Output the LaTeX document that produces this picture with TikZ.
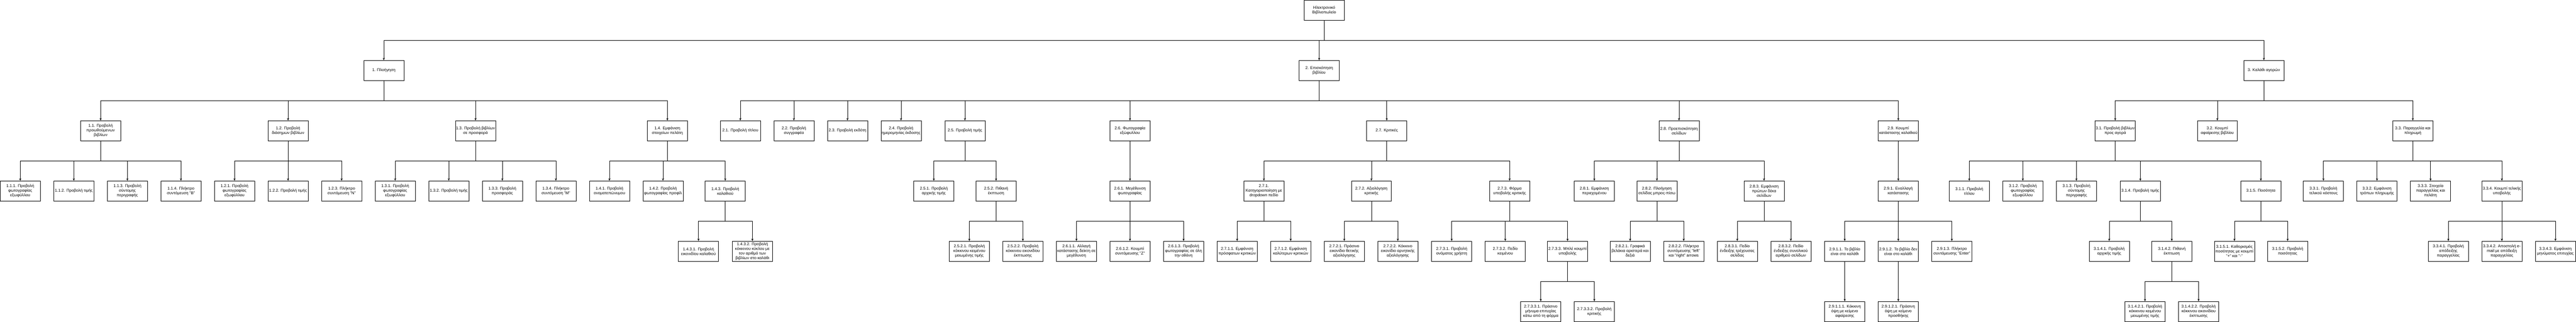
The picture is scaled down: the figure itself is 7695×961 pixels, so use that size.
\documentclass[tikz,border=0pt]{standalone}
\usepackage{fontspec}
\setmainfont{Liberation Sans}
\usetikzlibrary{arrows.meta}
\begin{document}
\begin{tikzpicture}[x=1pt,y=-1pt,
  box/.style={draw=black,line width=1pt,rectangle,anchor=north west,
    minimum width=120pt,minimum height=60pt,inner sep=1pt,align=center,
    font=\fontsize{12}{13.8}\selectfont},
  conn/.style={draw=black,line width=1pt,-{Stealth[length=7pt,width=6pt,inset=2pt]}}]
\fill[white] (0,0) rectangle (7695,961);
\useasboundingbox (0,0) rectangle (7695,961);
% root and level 1
\node[box] (R) at (3895,0) {Ηλεκτρονικό\\Βιβλιοπωλείο};
\node[box] (n1) at (1086,180) {1. Πλοήγηση};
\node[box] (n2) at (3880,180) {2. Επισκόπηση\\βιβλίου};
\node[box] (n3) at (6702,180) {3. Καλάθι αγορών};
% level 2
\node[box] (a11) at (240,360) {1.1. Προβολή\\προωθούμενων\\βιβλίων};
\node[box] (a12) at (800,360) {1.2. Προβολή\\διάσημων βιβλίων};
\node[box] (a13) at (1360,360) {1.3. Προβολή βιβλίων\\σε προσφορά};
\node[box] (a14) at (1933,360) {1.4. Εμφάνιση\\στοιχείων πελάτη};
\node[box] (b21) at (2151,360) {2.1. Προβολή τίτλου};
\node[box] (b22) at (2311,360) {2.2. Προβολή\\συγγραφέα};
\node[box] (b23) at (2471,360) {2.3. Προβολή εκδότη};
\node[box] (b24) at (2631,360) {2.4. Προβολή\\ημερομηνίας έκδοσης};
\node[box] (b25) at (2822,360) {2.5. Προβολή τιμής};
\node[box] (b26) at (3315,360) {2.6. Φωτογραφία\\εξώφυλλου};
\node[box] (b27) at (4082,360) {2.7. Κριτικές};
\node[box] (b28) at (4955,360) {2.8. Προεπισκόπηση\\σελίδων};
\node[box] (b29) at (5610,360) {2.9. Κουμπί\\κατάστασης καλαθιού};
\node[box] (c31) at (6258,360) {3.1. Προβολή βιβλίων\\προς αγορά};
\node[box] (c32) at (6563,360) {3.2. Κουμπί\\αφαίρεσης βιβλίου};
\node[box] (c33) at (7147,360) {3.3. Παραγγελία και\\πληρωμή};
% level 3
\node[box] (a111) at (0,540) {1.1.1. Προβολή\\φωτογραφίας\\εξωφύλλου};
\node[box] (a112) at (160,540) {1.1.2. Προβολή τιμής};
\node[box] (a113) at (320,540) {1.1.3. Προβολή\\σύντομης\\περιγραφής};
\node[box] (a114) at (480,540) {1.1.4. Πλήκτρο\\συντόμευση "B"};
\node[box] (a121) at (640,540) {1.2.1. Προβολή\\φωτογραφίας\\εξωφύλλου};
\node[box] (a122) at (800,540) {1.2.2. Προβολή τιμής};
\node[box] (a123) at (960,540) {1.2.3. Πλήκτρο\\συντόμευση "N"};
\node[box] (a131) at (1120,540) {1.3.1. Προβολή\\φωτογραφίας\\εξωφύλλου};
\node[box] (a132) at (1280,540) {1.3.2. Προβολή τιμής};
\node[box] (a133) at (1440,540) {1.3.3. Προβολή\\προσφοράς};
\node[box] (a134) at (1600,540) {1.3.4. Πλήκτρο\\συντόμευση "M"};
\node[box] (a141) at (1760,540) {1.4.1. Προβολή\\ονοματεπώνυμου};
\node[box] (a142) at (1920,540) {1.4.2. Προβολή\\φωτογραφίας προφίλ};
\node[box] (a143) at (2106,540) {1.4.3. Προβολή\\καλαθιού};
\node[box] (b251) at (2729,540) {2.5.1. Προβολή\\αρχικής τιμής};
\node[box] (b252) at (2915,540) {2.5.2. Πιθανή\\έκπτωση};
\node[box] (b261) at (3315,540) {2.6.1. Μεγέθυνση\\φωτογραφίας};
\node[box] (b271) at (3715,540) {2.7.1.\\Κατηγοριοποίηση με\\dropdown πεδίο};
\node[box] (b272) at (4036,540) {2.7.2. Αξιολόγηση\\κριτικής};
\node[box] (b273) at (4449,540) {2.7.3. Φόρμα\\υποβολής κριτικής};
\node[box] (b281) at (4702,540) {2.8.1. Εμφάνιση\\περιεχομένου};
\node[box] (b282) at (4889,540) {2.8.2. Πλοήγηση\\σελίδας μπρος-πίσω};
\node[box] (b283) at (5209,540) {2.8.3. Εμφάνιση\\πρώτων δέκα\\σελίδων};
\node[box] (b291) at (5610,540) {2.9.1. Εναλλαγή\\κατάστασης};
\node[box] (c311) at (5822,540) {3.1.1. Προβολή\\τίτλου};
\node[box] (c312) at (5982,540) {3.1.2. Προβολή\\φωτογραφίας\\εξωφύλλου};
\node[box] (c313) at (6142,540) {3.1.3. Προβολή\\σύντομης\\περιγραφής};
\node[box] (c314) at (6333,540) {3.1.4. Προβολή τιμής};
\node[box] (c315) at (6693,540) {3.1.5. Ποσότητα};
\node[box] (c331) at (6880,540) {3.3.1. Προβολή\\τελικού κόστους};
\node[box] (c332) at (7040,540) {3.3.2. Εμφάνιση\\τρόπων πληρωμής};
\node[box] (c333) at (7200,540) {3.3.3. Στοιχεία\\παραγγελίας και\\πελάτη};
\node[box] (c334) at (7413,540) {3.3.4. Κουμπί τελικής\\υποβολής};
% level 4
\node[box] (a1431) at (2026,720) {1.4.3.1. Προβολή\\εικονιδίου καλαθιού};
\node[box] (a1432) at (2187,720) {1.4.3.2. Προβολή\\κόκκινου κύκλου με\\τον αριθμό των\\βιβλίων στο καλάθι};
\node[box] (b2521) at (2835,720) {2.5.2.1. Προβολή\\κόκκινου κειμένου\\μειωμένης τιμής};
\node[box] (b2522) at (2995,720) {2.5.2.2. Προβολή\\κόκκινου εικονιδίου\\έκπτωσης};
\node[box] (b2611) at (3155,720) {2.6.1.1. Αλλαγή\\κατάστασης δείκτη σε\\μεγέθυνση};
\node[box] (b2612) at (3315,720) {2.6.1.2. Κουμπί\\συντόμευσης "Z"};
\node[box] (b2613) at (3475,720) {2.6.1.3. Προβολή\\φωτογραφίας σε όλη\\την οθόνη};
\node[box] (b2711) at (3635,720) {2.7.1.1. Εμφάνιση\\πρόσφατων κριτικών};
\node[box] (b2712) at (3795,720) {2.7.1.2. Εμφάνιση\\καλύτερων κριτικών};
\node[box] (b2721) at (3955,720) {2.7.2.1. Πράσινο\\εικονίδιο θετικής\\αξιολόγησης};
\node[box] (b2722) at (4115,720) {2.7.2.2. Κόκκινο\\εικονίδιο αρνητικής\\αξιολόγησης};
\node[box] (b2731) at (4276,720) {2.7.3.1. Προβολή\\ονόματος χρήστη};
\node[box] (b2732) at (4436,720) {2.7.3.2. Πεδίο\\κειμένου};
\node[box] (b2733) at (4622,720) {2.7.3.3. Μπλέ κουμπί\\υποβολής};
\node[box] (b2821) at (4809,720) {2.8.2.1. Γραφικά\\βελάκια αριστερά και\\δεξιά};
\node[box] (b2822) at (4969,720) {2.8.2.2. Πλήκτρα\\συντόμευσης "left"\\και "right" arrows};
\node[box] (b2831) at (5129,720) {2.8.3.1. Πεδίο\\ένδειξης τρέχουσας\\σελίδας};
\node[box] (b2832) at (5289,720) {2.8.3.2. Πεδίο\\ένδειξης συνολικού\\αριθμού σελίδων};
\node[box] (b2911) at (5450,720) {2.9.1.1. Το βιβλίο\\είναι στο καλάθι};
\node[box] (b2912) at (5610,720) {2.9.1.2. Το βιβλίο δεν\\είναι στο καλάθι};
\node[box] (b2913) at (5770,720) {2.9.1.3. Πλήκτρο\\συντόμευσης "Enter"};
\node[box] (c3141) at (6240,720) {3.1.4.1. Προβολή\\αρχικής τιμής};
\node[box] (c3142) at (6427,720) {3.1.4.2. Πιθανή\\έκπτωση};
\node[box] (c3151) at (6614,720) {3.1.5.1. Καθορισμός\\ποσότητας με κουμπί\\"+" και "-"};
\node[box] (c3152) at (6773,720) {3.1.5.2. Προβολή\\ποσότητας};
\node[box] (c3341) at (7253,720) {3.3.4.1. Προβολή\\απόδειξης\\παραγγελίας};
\node[box] (c3342) at (7413,720) {3.3.4.2. Αποστολή e-\\mail με απόδειξη\\παραγγελίας};
\node[box] (c3343) at (7573,720) {3.3.4.3. Εμφάνιση\\μηνύματος επιτυχίας};
% level 5
\node[box] (b27331) at (4542,900) {2.7.3.3.1. Πράσινο\\μήνυμα επιτυχίας\\κάτω από τη φόρμα};
\node[box] (b27332) at (4702,900) {2.7.3.3.2. Προβολή\\κριτικής};
\node[box] (b29111) at (5450,900) {2.9.1.1.1. Κόκκινη\\όψη με κείμενο\\αφαίρεσης};
\node[box] (b29121) at (5610,900) {2.9.1.2.1. Πράσινη\\όψη με κείμενο\\προσθήκης};
\node[box] (c31421) at (6347,900) {3.1.4.2.1. Προβολή\\κόκκινου κειμένου\\μειωμένης τιμής};
\node[box] (c31422) at (6507,900) {3.1.4.2.2. Προβολή\\κόκκινου εικονιδίου\\έκπτωσης};
% connectors
\foreach \p/\c in {R/n1,R/n2,R/n3,
  n1/a11,n1/a12,n1/a13,n1/a14,
  n2/b21,n2/b22,n2/b23,n2/b24,n2/b25,n2/b26,n2/b27,n2/b28,n2/b29,
  n3/c31,n3/c32,n3/c33,
  a11/a111,a11/a112,a11/a113,a11/a114,
  a12/a121,a12/a122,a12/a123,
  a13/a131,a13/a132,a13/a133,a13/a134,
  a14/a141,a14/a142,a14/a143,
  a143/a1431,a143/a1432,
  b25/b251,b25/b252,b252/b2521,b252/b2522,
  b26/b261,b261/b2611,b261/b2612,b261/b2613,
  b27/b271,b27/b272,b27/b273,
  b271/b2711,b271/b2712,b272/b2721,b272/b2722,
  b273/b2731,b273/b2732,b273/b2733,b2733/b27331,b2733/b27332,
  b28/b281,b28/b282,b28/b283,b282/b2821,b282/b2822,b283/b2831,b283/b2832,
  b29/b291,b291/b2911,b291/b2912,b291/b2913,b2911/b29111,b2912/b29121,
  c31/c311,c31/c312,c31/c313,c31/c314,c31/c315,
  c314/c3141,c314/c3142,c3142/c31421,c3142/c31422,
  c315/c3151,c315/c3152,
  c33/c331,c33/c332,c33/c333,c33/c334,
  c334/c3341,c334/c3342,c334/c3343}
  \draw[conn] (\p.south) -- ++(0,60) -| (\c.north);
\end{tikzpicture}
\end{document}
